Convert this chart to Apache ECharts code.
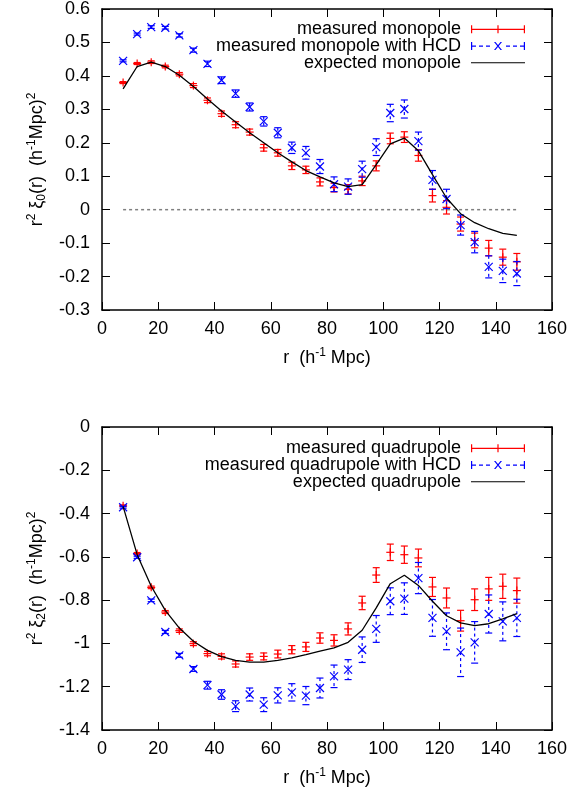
<!DOCTYPE html>
<html>
<head>
<meta charset="UTF-8">
<title>monopole / quadrupole</title>
<script src="https://cdn.jsdelivr.net/npm/echarts@6/dist/echarts.min.js"></script>
<style>
html, body { margin: 0; padding: 0; background: #fff; }
#container { width: 571px; height: 794px; }
</style>
</head>
<body>
<div id="container"></div>
<script>
// separation bins (h^-1 Mpc)
var r = [7.5, 12.5, 17.5, 22.5, 27.5, 32.5, 37.5, 42.5, 47.5, 52.5, 57.5, 62.5, 67.5, 72.5, 77.5,
	82.5, 87.5, 92.5, 97.5, 102.5, 107.5, 112.5, 117.5, 122.5, 127.5, 132.5, 137.5, 142.5, 147.5];

// monopole
var monoMeas = [0.380, 0.437, 0.441, 0.428, 0.405, 0.371, 0.327, 0.287, 0.254, 0.232, 0.185, 0.170, 0.131, 0.119, 0.083,
	0.066, 0.061, 0.086, 0.131, 0.213, 0.217, 0.162, 0.042, 0.007, -0.043, -0.092, -0.115, -0.142, -0.156];
var monoMeasErr = [0.003, 0.003, 0.004, 0.004, 0.005, 0.006, 0.007, 0.008, 0.009, 0.009, 0.010, 0.010, 0.011, 0.011, 0.012,
	0.013, 0.014, 0.014, 0.015, 0.016, 0.016, 0.017, 0.019, 0.020, 0.021, 0.022, 0.023, 0.024, 0.025];
var monoHcd = [0.445, 0.525, 0.546, 0.544, 0.521, 0.477, 0.436, 0.387, 0.347, 0.307, 0.264, 0.230, 0.185, 0.170, 0.129,
	0.076, 0.069, 0.121, 0.187, 0.289, 0.301, 0.205, 0.089, 0.032, -0.046, -0.097, -0.171, -0.183, -0.191];
var monoHcdErr = [0.003, 0.003, 0.004, 0.004, 0.005, 0.006, 0.008, 0.010, 0.011, 0.012, 0.014, 0.015, 0.017, 0.019, 0.021,
	0.022, 0.023, 0.024, 0.025, 0.026, 0.027, 0.027, 0.028, 0.029, 0.030, 0.032, 0.033, 0.035, 0.036];
var monoExp = [0.361, 0.428, 0.441, 0.428, 0.402, 0.368, 0.331, 0.295, 0.262, 0.230, 0.200, 0.170, 0.143, 0.117, 0.098,
	0.080, 0.069, 0.075, 0.135, 0.197, 0.214, 0.176, 0.105, 0.035, -0.012, -0.039, -0.057, -0.071, -0.077];

// quadrupole
var quadMeas = [-0.364, -0.585, -0.741, -0.855, -0.941, -1.001, -1.047, -1.060, -1.095, -1.063, -1.060, -1.049, -1.029, -1.016, -0.975,
	-0.986, -0.933, -0.813, -0.684, -0.579, -0.590, -0.605, -0.739, -0.790, -0.895, -0.798, -0.748, -0.736, -0.756];
var quadMeasErr = [0.004, 0.005, 0.006, 0.007, 0.008, 0.009, 0.010, 0.012, 0.014, 0.015, 0.016, 0.018, 0.019, 0.021, 0.024,
	0.026, 0.028, 0.031, 0.034, 0.038, 0.040, 0.041, 0.044, 0.046, 0.048, 0.050, 0.053, 0.056, 0.058];
var quadHcd = [-0.371, -0.602, -0.801, -0.947, -1.055, -1.118, -1.193, -1.236, -1.290, -1.236, -1.283, -1.240, -1.226, -1.241, -1.206,
	-1.152, -1.121, -1.029, -0.933, -0.805, -0.793, -0.698, -0.882, -0.944, -1.041, -0.995, -0.864, -0.898, -0.882];
var quadHcdErr = [0.004, 0.005, 0.006, 0.007, 0.009, 0.011, 0.018, 0.022, 0.025, 0.030, 0.032, 0.035, 0.040, 0.042, 0.046,
	0.052, 0.046, 0.059, 0.062, 0.062, 0.073, 0.072, 0.085, 0.085, 0.112, 0.096, 0.088, 0.090, 0.086];
var quadExp = [-0.367, -0.590, -0.736, -0.847, -0.929, -0.990, -1.032, -1.061, -1.078, -1.086, -1.086, -1.078, -1.067, -1.052, -1.036,
	-1.021, -0.995, -0.939, -0.836, -0.724, -0.685, -0.732, -0.805, -0.872, -0.905, -0.918, -0.909, -0.887, -0.862];

var names = ['measured monopole', 'measured monopole with HCD', 'expected monopole',
	'measured quadrupole', 'measured quadrupole with HCD', 'expected quadrupole'];

var FONT = '"Liberation Sans", Arial, Helvetica, sans-serif';
var FS = 18;
var RED = '#ff0000', BLUE = '#0000ff';

function triples(ys, es) {
	return r.map(function (x, i) { return [x, ys[i], es[i]]; });
}
function pairs(ys) {
	return r.map(function (x, i) { return [x, ys[i]]; });
}

// gnuplot style error bar: vertical bar + caps + point marker
function errBar(marker, dashed) {
	return function (params, api) {
		var x = api.value(0), y = api.value(1), e = api.value(2);
		var c = api.coord([x, y]);
		var hi = api.coord([x, y + e])[1];
		var lo = api.coord([x, y - e])[1];
		var col = api.visual('color');
		var cap = 3.5, m = 4;
		var st = { stroke: col, lineWidth: 1.2 };
		var kids = [
			{ type: 'line', shape: { x1: c[0], y1: hi, x2: c[0], y2: lo }, style: { stroke: col, lineWidth: 1.2, lineDash: dashed ? [3, 3] : null } },
			{ type: 'line', shape: { x1: c[0] - cap, y1: hi, x2: c[0] + cap, y2: hi }, style: st },
			{ type: 'line', shape: { x1: c[0] - cap, y1: lo, x2: c[0] + cap, y2: lo }, style: st }
		];
		if (marker == 'plus') {
			kids.push({ type: 'line', shape: { x1: c[0] - m, y1: c[1], x2: c[0] + m, y2: c[1] }, style: st });
			kids.push({ type: 'line', shape: { x1: c[0], y1: c[1] - m, x2: c[0], y2: c[1] + m }, style: st });
		} else {
			kids.push({ type: 'line', shape: { x1: c[0] - m, y1: c[1] - m, x2: c[0] + m, y2: c[1] + m }, style: st });
			kids.push({ type: 'line', shape: { x1: c[0] - m, y1: c[1] + m, x2: c[0] + m, y2: c[1] - m }, style: st });
		}
		return { type: 'group', children: kids };
	};
}

// legend sample icons, 54 x 12 box (tiny corner anchors keep the box size)
var anchors = 'M0,0L0.01,0L0,0.01Z M54,12L53.99,12L54,11.99Z ';
var iconRed = 'path://' + anchors + 'M0,5.4H54V6.6H0Z M0,2H1.2V10H0Z M52.8,2H54V10H52.8Z M26.4,2H27.6V10H26.4Z';
var iconBlue = 'path://' + anchors + 'M0,2H1.2V10H0Z M52.8,2H54V10H52.8Z ' +
	'M1,5.4H5V6.6H1Z M8,5.4H12V6.6H8Z M15,5.4H19V6.6H15Z M35,5.4H39V6.6H35Z M42,5.4H46V6.6H42Z M49,5.4H53V6.6H49Z ' +
	'M23,2L24.5,2L31,10L29.5,10Z M29.5,2L31,2L24.5,10L23,10Z';
var iconLine = 'path://' + anchors + 'M0,5.4H54V6.6H0Z';

var rich = {
	a: { fontSize: FS, fontFamily: FONT, color: '#000', lineHeight: 22 },
	p: { fontSize: 12, fontFamily: FONT, color: '#000', lineHeight: 12, verticalAlign: 'top' },
	b: { fontSize: 12, fontFamily: FONT, color: '#000', lineHeight: 12, verticalAlign: 'bottom' }
};

function xAxes(grid) {
	return [
		{ gridIndex: grid, type: 'value', min: 0, max: 160, interval: 20, position: 'bottom',
			name: '{a|r  (h}{p|-1}{a| Mpc)}', nameLocation: 'middle', nameGap: 37,
			nameTextStyle: { rich: rich },
			axisLine: { onZero: false, lineStyle: { color: '#000', width: 1.5 } },
			axisTick: { inside: true, length: 8, lineStyle: { color: '#000' } },
			axisLabel: { margin: 10, fontSize: FS, fontFamily: FONT, color: '#000' },
			splitLine: { show: false } },
		{ gridIndex: grid, type: 'value', min: 0, max: 160, interval: 20, position: 'top',
			axisLine: { onZero: false, lineStyle: { color: '#000', width: 1.5 } },
			axisTick: { inside: true, length: 8, lineStyle: { color: '#000' } },
			axisLabel: { show: false }, splitLine: { show: false } }
	];
}
function yAxes(grid, min, max, step, title) {
	return [
		{ gridIndex: grid, type: 'value', min: min, max: max, interval: step, position: 'left',
			name: title, nameLocation: 'middle', nameRotate: 90, nameGap: 50,
			nameTextStyle: { rich: rich },
			axisLine: { onZero: false, lineStyle: { color: '#000', width: 1.5 } },
			axisTick: { inside: true, length: 8, lineStyle: { color: '#000' } },
			axisLabel: { margin: 12, fontSize: FS, fontFamily: FONT, color: '#000' },
			splitLine: { show: false } },
		{ gridIndex: grid, type: 'value', min: min, max: max, interval: step, position: 'right',
			axisLine: { onZero: false, lineStyle: { color: '#000', width: 1.5 } },
			axisTick: { inside: true, length: 8, lineStyle: { color: '#000' } },
			axisLabel: { show: false }, splitLine: { show: false } }
	];
}

function legendFor(top, list) {
	return {
		top: top, right: 41, orient: 'vertical', align: 'right',
		itemWidth: 54, itemHeight: 12, itemGap: -2, selectedMode: false,
		textStyle: { fontSize: FS, lineHeight: 18.7, fontFamily: FONT, color: '#000', padding: [0, 5, 0, 0] },
		data: [
			{ name: list[0], icon: iconRed },
			{ name: list[1], icon: iconBlue },
			{ name: list[2], icon: iconLine }
		]
	};
}

var dom = document.getElementById('container');
var myChart = echarts.init(dom, null, { renderer: 'canvas' });

var option = {
	animation: false,
	backgroundColor: '#fff',
	grid: [
		{ left: 102, right: 19, top: 7, height: 303 },
		{ left: 102, right: 19, top: 427, height: 303 }
	],
	xAxis: xAxes(0).concat(xAxes(1)),
	yAxis: yAxes(0, -0.3, 0.6, 0.1, '{a|r}{p|2}{a| ξ}{b|0}{a|(r)  (h}{p|-1}{a|Mpc)}{p|2}')
		.concat(yAxes(1, -1.4, 0, 0.2, '{a|r}{p|2}{a| ξ}{b|2}{a|(r)  (h}{p|-1}{a|Mpc)}{p|2}')),
	legend: [
		legendFor(15, names.slice(0, 3)),
		legendFor(434, names.slice(3, 6))
	],
	series: [
		{ type: 'line', xAxisIndex: 0, yAxisIndex: 0, data: [[r[0], 0], [r[r.length - 1], 0]],
			showSymbol: false, silent: true, lineStyle: { color: '#808080', width: 1.5, type: [3, 3] } },
		{ type: 'custom', name: names[0], xAxisIndex: 0, yAxisIndex: 0, itemStyle: { color: RED },
			renderItem: errBar('plus', false), data: triples(monoMeas, monoMeasErr) },
		{ type: 'custom', name: names[1], xAxisIndex: 0, yAxisIndex: 0, itemStyle: { color: BLUE },
			renderItem: errBar('cross', true), data: triples(monoHcd, monoHcdErr) },
		{ type: 'line', name: names[2], xAxisIndex: 0, yAxisIndex: 0, data: pairs(monoExp),
			showSymbol: false, itemStyle: { color: '#000' }, lineStyle: { color: '#000', width: 1.3 } },

		{ type: 'custom', name: names[3], xAxisIndex: 2, yAxisIndex: 2, itemStyle: { color: RED },
			renderItem: errBar('plus', false), data: triples(quadMeas, quadMeasErr) },
		{ type: 'custom', name: names[4], xAxisIndex: 2, yAxisIndex: 2, itemStyle: { color: BLUE },
			renderItem: errBar('cross', true), data: triples(quadHcd, quadHcdErr) },
		{ type: 'line', name: names[5], xAxisIndex: 2, yAxisIndex: 2, data: pairs(quadExp),
			showSymbol: false, itemStyle: { color: '#000' }, lineStyle: { color: '#000', width: 1.3 } }
	]
};

if (option && typeof option === 'object') {
	myChart.setOption(option, true);
}
</script>
</body>
</html>
